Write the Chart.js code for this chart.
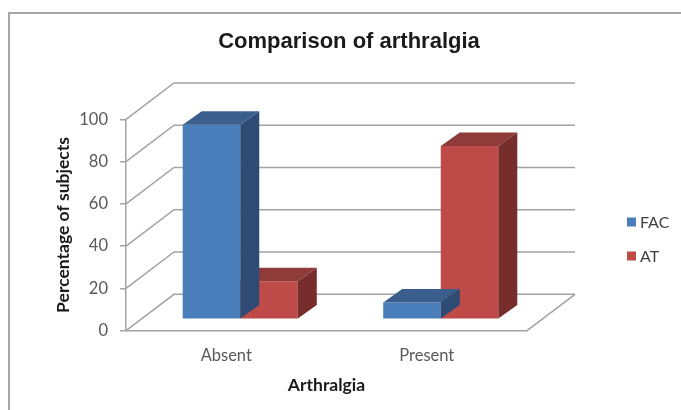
<!DOCTYPE html>
<html>
<head>
<meta charset="utf-8">
<script src="https://cdn.jsdelivr.net/npm/chart.js@4"></script>
<style>
  body { margin: 0; background: #fff; }
</style>
</head>
<body>
<canvas id="arthralgiaChart" width="681" height="410"></canvas>
<script>
const categories = ['Absent', 'Present'];
const seriesNames = ['FAC', 'AT'];
const facValues = [92, 8];
const atValues = [18, 82];
const yTickValues = [0, 20, 40, 60, 80, 100];

// front, top, side colours of the 3d columns
const facColors = ['#4a7ebb', '#3a5f8c', '#2d4b73'];
const atColors = ['#be4b48', '#8e3b39', '#772d2b'];

const GRID = '#a3a3a3';
const DEPTH_X = 48, DEPTH_Y = -36.4;      // floor / back wall offset
const SHIFT_X = 14, SHIFT_Y = -11.4;      // columns sit a bit behind the front edge
const BAR_DX = 19, BAR_DY = -13.5;        // column depth

const frame3d = {
    id: 'frame3d',
    beforeDraw(chart) {
        const c = chart.ctx;
        c.save();
        c.fillStyle = '#fff';
        c.fillRect(0, 0, chart.width, chart.height);
        c.strokeStyle = '#a6a6a6';
        c.lineWidth = 2;
        c.strokeRect(9, 13, chart.width + 20, chart.height + 20);
        c.restore();
    },
    beforeDatasetsDraw(chart) {
        const c = chart.ctx, a = chart.chartArea, y = chart.scales.y;
        c.save();
        c.strokeStyle = GRID;
        c.lineWidth = 1.5;
        c.beginPath();
        y.ticks.forEach(t => {
            const py = y.getPixelForValue(t.value);
            c.moveTo(a.left, py);
            c.lineTo(a.left + DEPTH_X, py + DEPTH_Y);
            c.lineTo(a.right + DEPTH_X, py + DEPTH_Y);
        });
        c.moveTo(a.right, a.bottom);
        c.lineTo(a.right + DEPTH_X, a.bottom + DEPTH_Y);
        c.stroke();
        c.restore();
        // columns drawn in the shifted plane
        c.save();
        c.translate(SHIFT_X, SHIFT_Y);
    },
    afterDatasetDraw(chart, args) {
        const c = chart.ctx;
        const ds = chart.data.datasets[args.index];
        args.meta.data.forEach(bar => {
            const {x, y, base, width} = bar.getProps(['x', 'y', 'base', 'width'], true);
            const l = x - width / 2, r = x + width / 2;
            c.fillStyle = ds.topColor;
            c.beginPath();
            c.moveTo(l, y);
            c.lineTo(r, y);
            c.lineTo(r + BAR_DX, y + BAR_DY);
            c.lineTo(l + BAR_DX, y + BAR_DY);
            c.closePath();
            c.fill();
            c.fillStyle = ds.sideColor;
            c.beginPath();
            c.moveTo(r, y);
            c.lineTo(r + BAR_DX, y + BAR_DY);
            c.lineTo(r + BAR_DX, base + BAR_DY);
            c.lineTo(r, base);
            c.closePath();
            c.fill();
        });
    },
    afterDatasetsDraw(chart) {
        chart.ctx.restore();
    },
    afterDraw(chart) {
        // legend on the right
        const c = chart.ctx;
        const rows = [222, 256];
        c.save();
        c.font = '16px Lato';
        c.textBaseline = 'middle';
        chart.data.datasets.forEach((ds, i) => {
            c.fillStyle = ds.backgroundColor;
            c.fillRect(627, rows[i] - 4.5, 9, 9);
            c.fillStyle = '#404040';
            c.fillText(ds.label, 640, rows[i] + 1);
        });
        c.restore();
    }
};

const ctx = document.getElementById('arthralgiaChart').getContext('2d');

const arthralgiaChart = new Chart(ctx, {
    type: 'bar',
    data: {
        labels: categories,
        datasets: [{
            label: seriesNames[0],
            data: facValues,
            backgroundColor: facColors[0],
            topColor: facColors[1],
            sideColor: facColors[2],
            yAxisID: 'y'
        }, {
            label: seriesNames[1],
            data: atValues,
            backgroundColor: atColors[0],
            topColor: atColors[1],
            sideColor: atColors[2],
            yAxisID: 'y'
        }]
    },
    options: {
        responsive: false,
        animation: false,
        devicePixelRatio: 1,
        categoryPercentage: 0.574,
        barPercentage: 1,
        layout: {
            padding: { left: 17, top: 0, right: 0, bottom: 0 }
        },
        scales: {
            x: {
                grid: { display: false, drawTicks: false },
                border: { display: true, color: GRID, width: 1.5 },
                ticks: {
                    color: '#595959',
                    font: { family: 'Lato', size: 16.5 },
                    padding: 15
                },
                title: {
                    display: true,
                    text: 'Arthralgia',
                    color: '#1a1a1a',
                    font: { family: 'Lato', size: 17.5, weight: 'bold' },
                    padding: { top: 0, bottom: 13.8 }
                },
                afterFit(scale) { scale.height = 79.3; }
            },
            y: {
                min: 0,
                max: 100,
                afterBuildTicks(scale) {
                    scale.ticks = yTickValues.map(v => ({ value: v }));
                },
                grid: {
                    drawOnChartArea: false,
                    drawTicks: true,
                    tickLength: 6,
                    color: GRID,
                    lineWidth: 1.5
                },
                border: { display: true, color: GRID, width: 1.5 },
                ticks: {
                    color: '#595959',
                    font: { family: 'Lato', size: 16.5 },
                    padding: 12
                },
                title: {
                    display: true,
                    text: 'Percentage of subjects',
                    color: '#1a1a1a',
                    font: { family: 'Lato', size: 17.5, weight: 'bold' },
                    padding: { top: 35.5, bottom: 0 }
                },
                afterFit(scale) { scale.width = 109; }
            },
            y2: {
                position: 'right',
                grid: { display: false },
                border: { display: false },
                ticks: { display: false },
                afterFit(scale) { scale.width = 154; }
            }
        },
        plugins: {
            legend: { display: false },
            tooltip: { enabled: false },
            title: {
                display: true,
                text: 'Comparison of arthralgia',
                color: '#1a1a1a',
                font: { family: 'Liberation Sans', size: 22, weight: 'bold' },
                padding: { top: 28.8, bottom: 64.1 }
            }
        }
    },
    plugins: [frame3d]
});
</script>
</body>
</html>
